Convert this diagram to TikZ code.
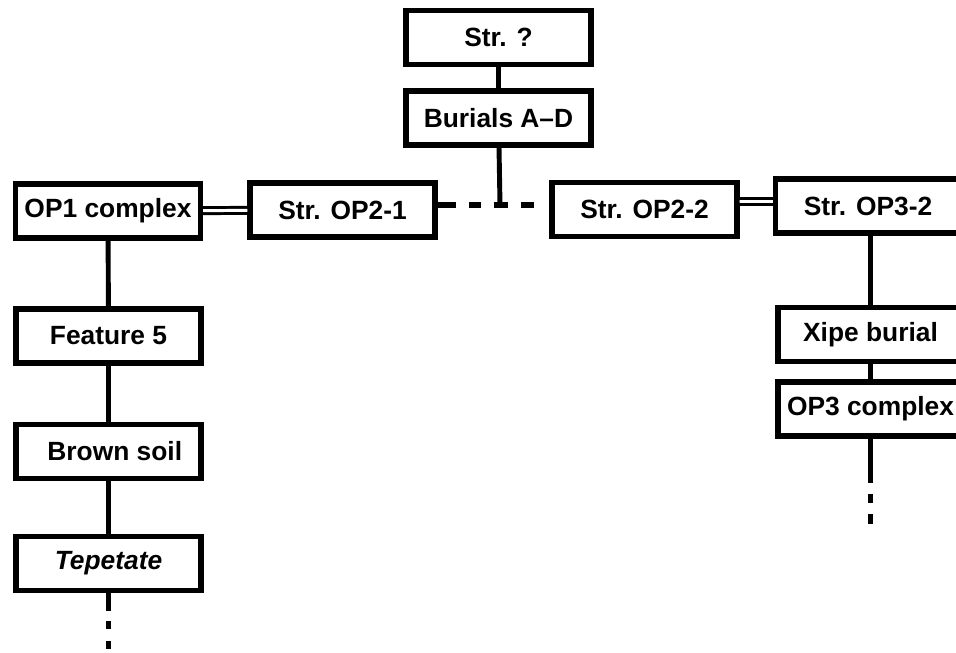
\documentclass[tikz,border=0pt]{standalone}
\usepackage{fontspec}
\setmainfont{Liberation Sans}
\begin{document}
\begin{tikzpicture}[
  unit/.style={draw, line width=2.9pt, minimum width=3.7cm, minimum height=1.08cm,
    inner sep=0pt, font=\fontsize{15}{18}\selectfont\bfseries},
  link/.style={line width=2.8pt},
  same/.style={double, line width=1.7pt, double distance=1.7pt},
  gap/.style={line width=3.8pt, dash pattern=on 0.36cm off 0.26cm on 0.24cm off 0.26cm on 0.28cm off 0.26cm on 0.26cm off 0.6cm},
  more/.style={line width=2.9pt}
]
\useasboundingbox (0,0) rectangle (19.12,13.04);

\node[unit] (str) at (9.97,12.29) {Str. ?};
\node[unit] (bur) at (9.97,10.68) {Burials A--D};
\node[unit] (op1) at (2.16,8.82) {OP1 complex};
\node[unit] (op21) at (6.85,8.84) {Str. OP2-1};
\node[unit] (op22) at (12.89,8.85) {Str. OP2-2};
\node[unit] (op32) at (17.36,8.92) {Str. OP3-2};
\node[unit] (feat) at (2.17,6.32) {Feature 5};
\node[unit] (soil) at (2.17,4.01) {\hspace{0.25cm}Brown soil};
\node[unit] (tep) at (2.17,1.77) {\itshape Tepetate};
\node[unit] (xipe) at (17.41,6.35) {Xipe burial};
\node[unit] (op3) at (17.41,4.86) {OP3 complex};

\coordinate (jn) at (10.0,8.94);
\coordinate (tepend) at ([yshift=-1.12cm]tep.south);
\coordinate (op3end) at ([yshift=-1.7cm]op3.south);

\draw[link] (str) -- (bur);
\draw[link] (bur) -- (jn);
\draw[gap] (op21.east |- jn) -- (jn) -- (op22.west |- jn);
\draw[same] (op1) -- (op21);
\draw[same] ([yshift=0.16cm]op22.east) -- ([yshift=0.09cm]op32.west);

\draw[link] (op1) -- (feat);
\draw[link] (feat) -- (soil);
\draw[link] (soil) -- (tep);
\draw[more, dash pattern=on 0.36cm off 0.2cm on 0.16cm off 0.24cm on 0.16cm off 1cm] (tep.south) -- (tepend);

\draw[link] (op32.south -| xipe) -- (xipe);
\draw[link] (xipe) -- (op3);
\draw[more, dash pattern=on 0.88cm off 0.22cm on 0.18cm off 0.22cm on 0.2cm off 1cm] (op3.south) -- (op3end);
\end{tikzpicture}
\end{document}
